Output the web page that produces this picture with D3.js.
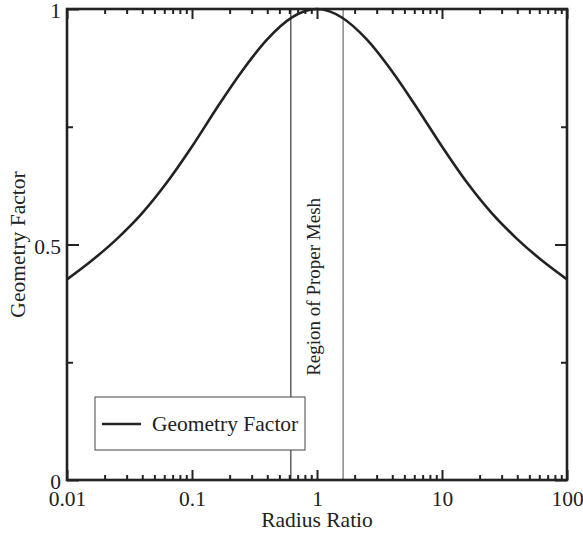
<!DOCTYPE html>
<html>
<head>
<meta charset="utf-8">
<script src="https://cdn.jsdelivr.net/npm/d3@7"></script>
<style>
  body { margin: 0; background: #fff; }
  svg text { font-family: "Liberation Serif", "Times New Roman", serif; fill: #222; }
</style>
</head>
<body>
<script>
// radius ratio (log spaced) and geometry factor
var radiusRatio = [0.01, 0.0158, 0.0251, 0.0398, 0.0631, 0.1, 0.158, 0.251, 0.398, 0.631, 0.794, 1,
                   1.26, 1.58, 2.51, 3.98, 6.31, 10, 15.8, 25.1, 39.8, 63.1, 100];
var geometryFactor = [0.426, 0.466, 0.512, 0.566, 0.632, 0.708, 0.790, 0.868, 0.935, 0.982, 0.995, 1.0,
                      0.995, 0.982, 0.935, 0.868, 0.790, 0.708, 0.632, 0.566, 0.512, 0.466, 0.426];
var meshBounds = [0.618, 1.618];
var xMajorTicks = [0.01, 0.1, 1, 10, 100];
var xTickLabels = ["0.01", "0.1", "1", "10", "100"];
var yMajorTicks = [0, 0.5, 1];
var yTickLabels = ["0", "0.5", "1"];
var yMinorTicks = [0.25, 0.75];

var fontSize = 21.5;

var margin = {top: 9, right: 16, bottom: 54, left: 67}
  , width = 583 - margin.left - margin.right
  , height = 534 - margin.top - margin.bottom;

var data = radiusRatio.map(function(r, i) { return {x: r, y: geometryFactor[i]}; });

var xScale = d3.scaleLog().domain([0.01, 100]).range([0, width]);
var yScale = d3.scaleLinear().domain([0, 1]).range([height, 0]);

// minor x ticks 2..9 within each decade
var xMinorTicks = [];
xMajorTicks.slice(0, -1).forEach(function(d) {
  for (var k = 2; k <= 9; k++) xMinorTicks.push(d * k);
});

var svg = d3.select("body").append("svg")
    .attr("width", 583)
    .attr("height", 534)
  .append("g")
    .attr("transform", "translate(" + margin.left + "," + margin.top + ")");

function styleAxis(g) {
  g.select(".domain").remove();
  g.selectAll(".tick line").attr("stroke", "#222").attr("stroke-width", 2);
}

// bottom axis (major with labels, minor without)
svg.append("g")
    .attr("transform", "translate(0," + height + ")")
    .call(d3.axisBottom(xScale).tickValues(xMajorTicks).tickSize(-10)
      .tickFormat(function(d, i) { return xTickLabels[i]; }))
    .call(styleAxis)
    .selectAll("text").attr("font-size", fontSize).attr("dy", 0).attr("y", 26);
svg.append("g")
    .attr("transform", "translate(0," + height + ")")
    .call(d3.axisBottom(xScale).tickValues(xMinorTicks).tickSize(-5).tickFormat(""))
    .call(styleAxis);

// top axis
svg.append("g")
    .call(d3.axisTop(xScale).tickValues(xMajorTicks).tickSize(-10).tickFormat(""))
    .call(styleAxis);
svg.append("g")
    .call(d3.axisTop(xScale).tickValues(xMinorTicks).tickSize(-5).tickFormat(""))
    .call(styleAxis);

// left axis
svg.append("g")
    .call(d3.axisLeft(yScale).tickValues(yMajorTicks).tickSize(-12)
      .tickFormat(function(d, i) { return yTickLabels[i]; }))
    .call(styleAxis)
    .selectAll("text").attr("font-size", fontSize).attr("x", -6).attr("dy", "0.4em");
svg.append("g")
    .call(d3.axisLeft(yScale).tickValues(yMinorTicks).tickSize(-6).tickFormat(""))
    .call(styleAxis);

// right axis
svg.append("g")
    .attr("transform", "translate(" + width + ",0)")
    .call(d3.axisRight(yScale).tickValues(yMajorTicks).tickSize(-12).tickFormat(""))
    .call(styleAxis);
svg.append("g")
    .attr("transform", "translate(" + width + ",0)")
    .call(d3.axisRight(yScale).tickValues(yMinorTicks).tickSize(-6).tickFormat(""))
    .call(styleAxis);

// vertical lines bounding the proper mesh region
svg.selectAll(".bound")
    .data(meshBounds)
  .enter().append("line")
    .attr("class", "bound")
    .attr("x1", function(d) { return xScale(d); })
    .attr("x2", function(d) { return xScale(d); })
    .attr("y1", 0)
    .attr("y2", height)
    .attr("stroke", function(d, i) { return i == 0 ? "#111" : "#888"; })
    .attr("stroke-width", function(d, i) { return i == 0 ? 1 : 1.5; });

svg.append("text")
    .attr("transform", "translate(" + (d3.mean(meshBounds.map(xScale)) + 3) + "," + yScale(0.41) + ") rotate(-90)")
    .attr("text-anchor", "middle")
    .attr("font-size", 19)
    .text("Region of Proper Mesh");

// the curve
var line = d3.line()
    .x(function(d) { return xScale(d.x); })
    .y(function(d) { return yScale(d.y); })
    .curve(d3.curveMonotoneX);

svg.append("path")
    .datum(data)
    .attr("fill", "none")
    .attr("stroke", "#222")
    .attr("stroke-width", 2.6)
    .attr("d", line);

// frame
svg.append("rect")
    .attr("width", width)
    .attr("height", height)
    .attr("fill", "none")
    .attr("stroke", "#222")
    .attr("stroke-width", 2.6);

// legend
var legend = svg.append("g").attr("transform", "translate(28,388)");
legend.append("rect")
    .attr("width", 210)
    .attr("height", 53)
    .attr("fill", "#fff")
    .attr("stroke", "#444")
    .attr("stroke-width", 1);
legend.append("line")
    .attr("x1", 7).attr("x2", 46)
    .attr("y1", 27).attr("y2", 27)
    .attr("stroke", "#222")
    .attr("stroke-width", 2.6);
legend.append("text")
    .attr("x", 57)
    .attr("y", 34)
    .attr("font-size", fontSize)
    .text("Geometry Factor");

// axis titles
svg.append("text")
    .attr("x", width / 2)
    .attr("y", height + 47)
    .attr("text-anchor", "middle")
    .attr("font-size", fontSize)
    .text("Radius Ratio");

svg.append("text")
    .attr("transform", "translate(" + (-42) + "," + (height / 2) + ") rotate(-90)")
    .attr("text-anchor", "middle")
    .attr("font-size", fontSize)
    .text("Geometry Factor");
</script>
</body>
</html>
